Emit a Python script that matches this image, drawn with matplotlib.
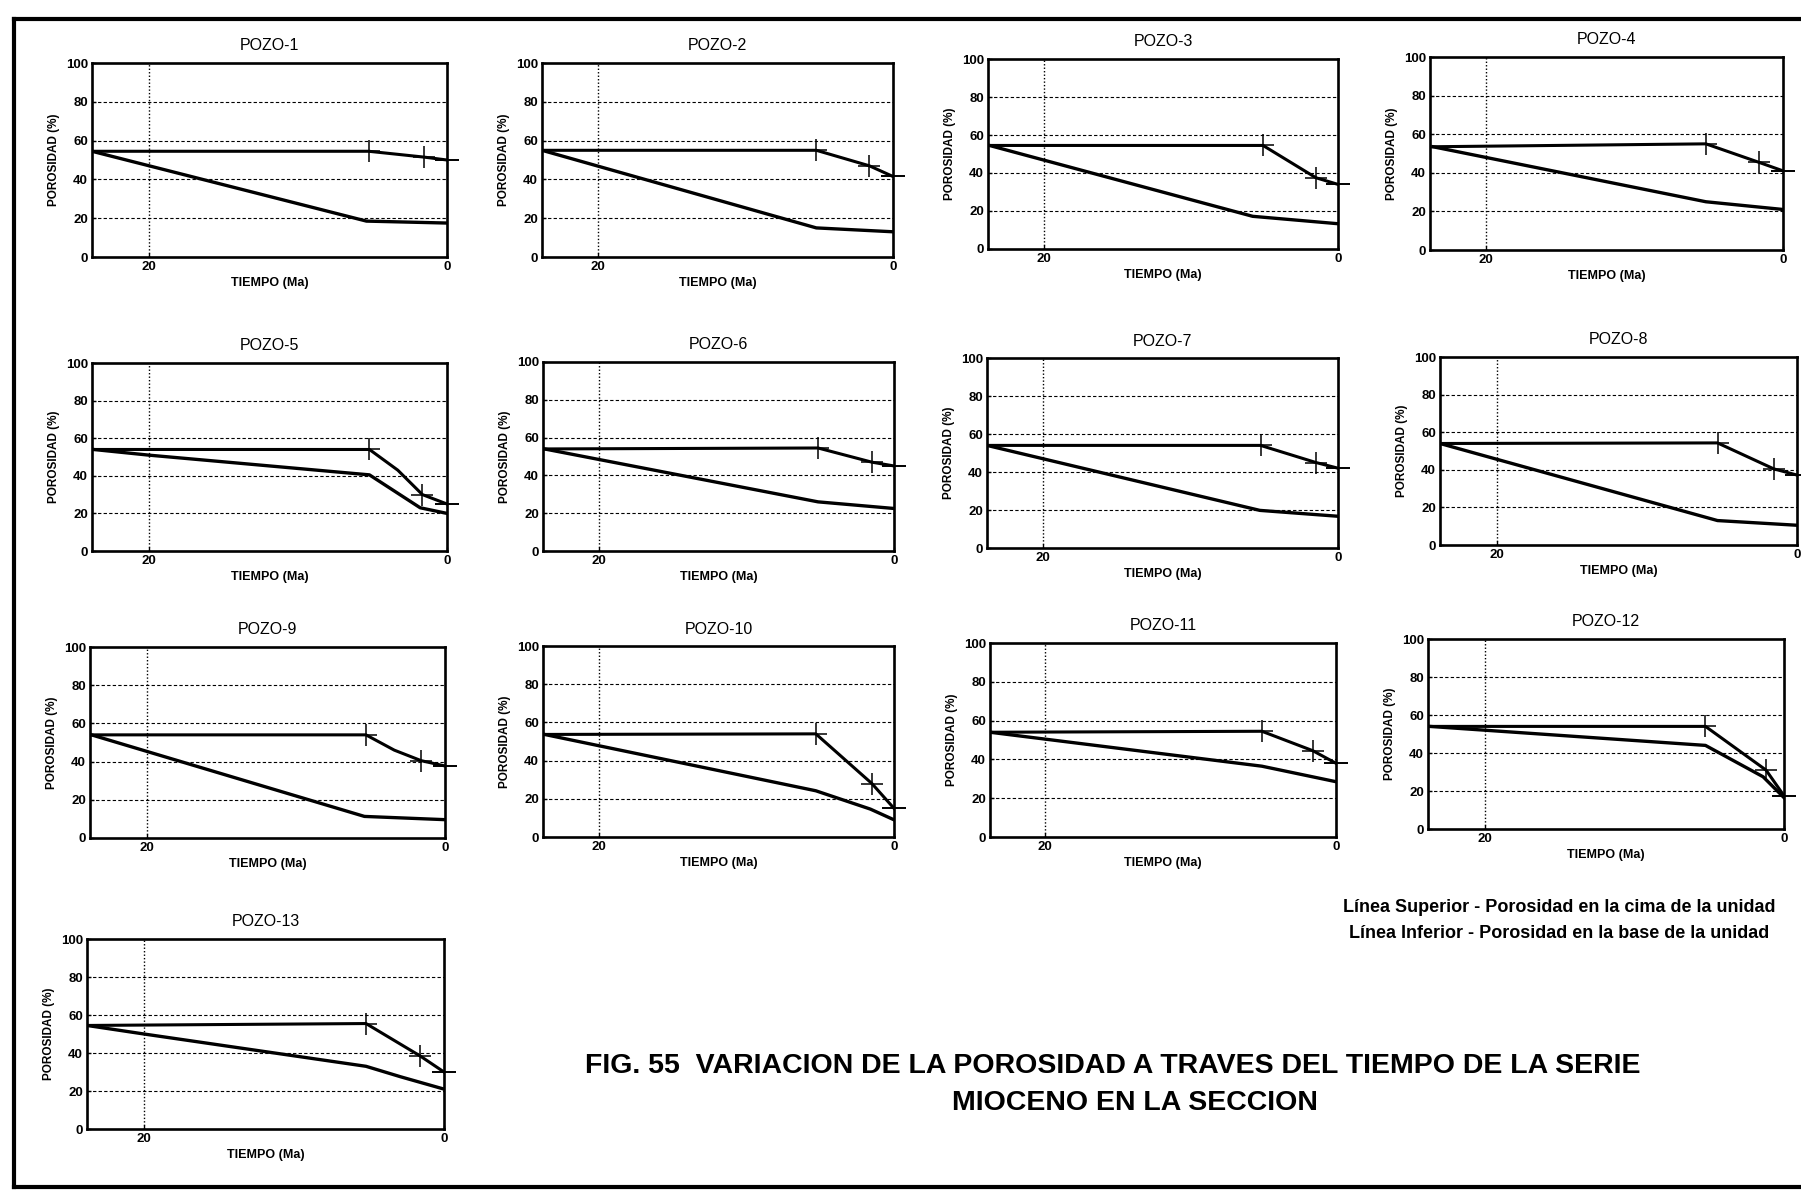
import matplotlib
matplotlib.use("Agg")
import matplotlib.pyplot as plt
from matplotlib.lines import Line2D

plt.rcParams['font.family'] = ['Liberation Sans', 'DejaVu Sans']

# --- datos ---
pozos = ['POZO-1', 'POZO-2', 'POZO-3', 'POZO-4', 'POZO-5', 'POZO-6', 'POZO-7',
         'POZO-8', 'POZO-9', 'POZO-10', 'POZO-11', 'POZO-12', 'POZO-13']

# linea superior: porosidad en la cima de la unidad
tiempo_sup = [
    [23.8, 5.25, 1.55, 0],
    [23.8, 5.2, 1.6, 0],
    [23.7, 5.1, 1.5, 0],
    [23.6, 5.2, 1.65, 0],
    [23.7, 5.2, 3.3, 1.65, 0],
    [23.7, 5.15, 1.5, 0],
    [23.8, 5.25, 1.5, 0],
    [23.8, 5.3, 1.55, 0],
    [23.7, 5.3, 3.4, 1.6, 0],
    [23.7, 5.3, 1.5, 0],
    [23.8, 5.1, 1.6, 0],
    [23.7, 5.25, 1.2, 0],
    [23.8, 5.2, 1.6, 0],
]
porosidad_sup = [
    [54.5, 54.5, 51.5, 50],
    [55, 55, 47, 41.5],
    [54.5, 54.5, 37.5, 34],
    [53.5, 55, 45.5, 41],
    [54, 54, 43, 30, 25],
    [54, 54.5, 47, 45],
    [54, 54, 45, 42],
    [54, 54.3, 40.5, 37.2],
    [54, 54, 46, 40.5, 37.7],
    [53.7, 54, 28, 15],
    [54, 54.5, 44.5, 38],
    [54, 54, 31, 17.5],
    [54.5, 55.5, 38.5, 30],
]

# linea inferior: porosidad en la base de la unidad
tiempo_inf = [
    [23.8, 5.4, 0],
    [23.8, 5.2, 0],
    [23.7, 5.8, 0],
    [23.6, 5.2, 0],
    [23.7, 20, 5.2, 1.8, 0],
    [23.7, 5.15, 0],
    [23.8, 5.3, 0],
    [23.8, 5.3, 0],
    [23.7, 5.4, 0],
    [23.7, 5.3, 1.6, 0],
    [23.8, 5.1, 0],
    [23.7, 20, 5.25, 1.4, 0],
    [23.8, 20, 5.2, 2.9, 0],
]
porosidad_inf = [
    [54.5, 18.5, 17.5],
    [55, 15, 13],
    [54.5, 17.2, 13.3],
    [53.5, 25, 21],
    [54, 51, 40.5, 23, 20],
    [54, 26, 22.5],
    [54, 19.8, 16.7],
    [54, 13, 10.5],
    [54, 11.3, 9.6],
    [53.7, 24.2, 14.6, 9],
    [54, 36.5, 28.5],
    [54, 52, 44, 27.5, 16.5],
    [54.5, 50, 33, 27.5, 21],
]

# marcas (+) sobre la linea superior
marca_t = [
    [5.25, 1.55], [5.2, 1.6], [5.1, 1.5], [5.2, 1.65], [5.2, 1.65],
    [5.15, 1.5], [5.25, 1.5], [5.3, 1.55], [5.3, 1.6], [5.3, 1.5],
    [5.1, 1.6], [5.25, 1.2], [5.2, 1.6],
]
marca_p = [
    [54.5, 51.5], [55, 47], [54.5, 37.5], [55, 45.5], [54, 30],
    [54.5, 47], [54, 45], [54.3, 40.5], [54, 40.5], [54, 28],
    [54.5, 44.5], [54, 31], [55.5, 38.5],
]

y_ticks = [0, 20, 40, 60, 80, 100]
x_ticks = [20, 0]
grid_y = [20, 40, 60, 80]

leyenda = ['Línea Superior - Porosidad en la cima de la unidad',
           'Línea Inferior - Porosidad en la base de la unidad']
titulo = ['FIG. 55  VARIACION DE LA POROSIDAD A TRAVES DEL TIEMPO DE LA SERIE',
          'MIOCENO EN LA SECCION']

# posiciones de los ejes en pixeles (izq, arriba, der, abajo)
W, H = 1801, 1192
cajas = [
    (92, 63, 447, 257), (542, 63, 893, 257), (988, 59, 1338, 249), (1430, 57, 1783, 250),
    (92, 363, 447, 551), (543, 362, 894, 551), (987, 358, 1338, 548), (1440, 357, 1797, 545),
    (90, 647, 445, 838), (543, 646, 894, 837), (990, 643, 1336, 837), (1428, 639, 1784, 829),
    (87, 939, 444, 1129),
]

fig = plt.figure(figsize=(W / 100, H / 100), dpi=100)


def panel(i):
    l, t, r, b = cajas[i]
    ax = fig.add_axes([l / W, 1 - b / H, (r - l) / W, (b - t) / H])
    ax.set_xlim(23.8, 0)
    ax.set_ylim(0, 100)
    ax.set_xticks(x_ticks)
    ax.set_yticks(y_ticks)
    for g in grid_y:
        ax.axhline(g, color='k', lw=0.8, ls=(0, (3, 2)), zorder=1)
    ax.axvline(20, color='k', lw=1.0, ls=(0, (1, 1.5)), zorder=1)
    for s in ax.spines.values():
        s.set_linewidth(1.9)
    ax.tick_params(direction='in', length=3, width=1, labelsize=9.5, pad=3)
    for lab in ax.get_xticklabels() + ax.get_yticklabels():
        lab.set_fontweight('bold')

    ax.plot(tiempo_sup[i], porosidad_sup[i], color='k', lw=2.2, zorder=3)
    ax.plot(tiempo_inf[i], porosidad_inf[i], color='k', lw=2.4, zorder=3)
    ax.plot(marca_t[i], marca_p[i], ls='none', marker='+', ms=16, mew=1.1,
            color='k', zorder=4)
    ax.plot([tiempo_sup[i][-1]], [porosidad_sup[i][-1]], ls='none', marker='_',
            ms=17, mew=1.4, color='k', clip_on=False, zorder=4)

    ax.set_title(pozos[i], fontsize=11.5, pad=9)
    ax.set_ylabel('POROSIDAD (%)', fontsize=8.5, fontweight='bold', labelpad=4)
    ax.set_xlabel('TIEMPO (Ma)', fontsize=9, fontweight='bold', labelpad=3)
    return ax


for i in range(len(pozos)):
    panel(i)

# marco de la lamina
y_top = 1 - 19 / H
y_bot = 1 - 1187 / H
x_left = 14 / W
fig.add_artist(Line2D([x_left, 1.0], [y_top, y_top], color='k', lw=3))
fig.add_artist(Line2D([x_left, 1.0], [y_bot, y_bot], color='k', lw=3))
fig.add_artist(Line2D([x_left, x_left], [y_bot, y_top], color='k', lw=3))

fig.text(1559 / W, 1 - 908 / H, leyenda[0], ha='center', va='center',
         fontsize=13, fontweight='bold')
fig.text(1559 / W, 1 - 933 / H, leyenda[1], ha='center', va='center',
         fontsize=13, fontweight='bold')

fig.text(1113 / W, 1 - 1066 / H, titulo[0], ha='center', va='center',
         fontsize=20.5, fontweight='bold')
fig.text(1135 / W, 1 - 1103 / H, titulo[1], ha='center', va='center',
         fontsize=20.5, fontweight='bold')

fig.savefig('out.png', dpi=100)
